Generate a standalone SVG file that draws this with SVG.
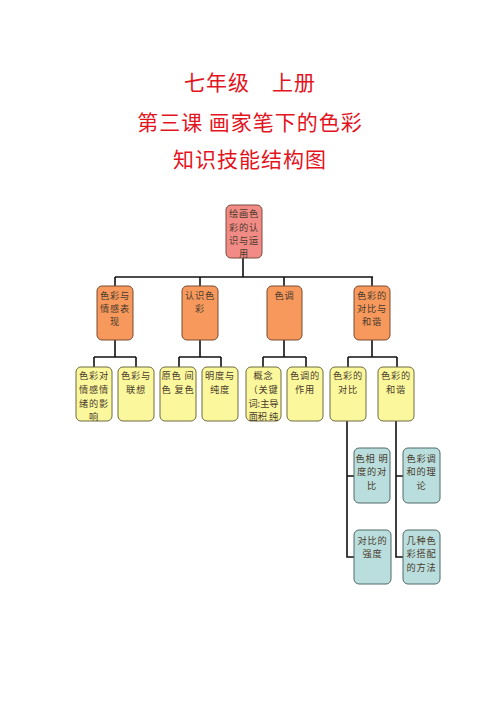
<svg xmlns="http://www.w3.org/2000/svg" width="500" height="707" viewBox="0 0 500 707">
<style>
.t{font-family:"Noto Sans CJK SC","Noto Sans CJK JP",sans-serif;fill:#e3141e;font-size:21px;letter-spacing:1px;text-anchor:middle;dominant-baseline:central}
.b{font-family:"Noto Sans CJK SC","Noto Sans CJK JP",sans-serif;fill:#4a3a2c;font-size:9.2px;letter-spacing:0.8px;text-anchor:middle;dominant-baseline:central}
.r{fill:#f28b86;stroke:#7a4a40;stroke-width:1}
.o{fill:#f7995c;stroke:#7a4a30;stroke-width:1}
.y{fill:#fbf79c;stroke:#6e6a40;stroke-width:1}
.c{fill:#b9dedd;stroke:#4e6a68;stroke-width:1}
.l{fill:none;stroke:#111;stroke-width:1.6}
</style>
<rect width="500" height="707" fill="#fff"/>
<g id="title">
<text class="t" x="250" y="81">七年级　上册</text>
<text class="t" x="250" y="121">第三课 画家笔下的色彩</text>
<text class="t" x="250" y="158">知识技能结构图</text>
</g>
<g id="connectors">
<path class="l" d="M243 258V277M115 277H373M115 277V286M200 277V286M284 277V286M372 277V286"/>
<path class="l" d="M115 340V357M94 357H136M94 357V367M136 357V367"/>
<path class="l" d="M200 340V357M179 357H221M179 357V367M221 357V367"/>
<path class="l" d="M284 340V357M263 357H306M263 357V367M306 357V367"/>
<path class="l" d="M372 340V357M348 357H397M348 357V367M397 357V367"/>
<path class="l" d="M347 421V557H354M347 476H354"/>
<path class="l" d="M396 421V557H403M396 476H403"/>
</g>
<g id="root"><rect class="r" x="226" y="205" width="36" height="53" rx="5"/>
<text class="b" x="244" y="213">绘画色</text><text class="b" x="244" y="227">彩的认</text><text class="b" x="244" y="240">识与运</text><text class="b" x="244" y="253">用</text></g>
<g id="n1"><rect class="o" x="97" y="286" width="36" height="54" rx="5"/>
<text class="b" x="115" y="295">色彩与</text><text class="b" x="115" y="308">情感表</text><text class="b" x="115" y="321">现</text></g>
<g id="n2"><rect class="o" x="182" y="286" width="36" height="54" rx="5"/>
<text class="b" x="200" y="295">认识色</text><text class="b" x="200" y="308">彩</text></g>
<g id="n3"><rect class="o" x="267" y="286" width="35" height="54" rx="5"/>
<text class="b" x="284.5" y="295">色调</text></g>
<g id="n4"><rect class="o" x="354" y="286" width="36" height="54" rx="5"/>
<text class="b" x="372" y="295">色彩的</text><text class="b" x="372" y="308">对比与</text><text class="b" x="372" y="321">和谐</text></g>
<g id="n1a"><rect class="y" x="76" y="367" width="36" height="54" rx="5"/>
<text class="b" x="94" y="375">色彩对</text><text class="b" x="94" y="389">情感情</text><text class="b" x="94" y="403">绪的影</text><text class="b" x="94" y="416">响</text></g>
<g id="n1b"><rect class="y" x="118" y="367" width="36" height="54" rx="5"/>
<text class="b" x="136" y="375">色彩与</text><text class="b" x="136" y="389">联想</text></g>
<g id="n2a"><rect class="y" x="160" y="367" width="36" height="54" rx="5"/>
<text class="b" x="178" y="375">原色 间</text><text class="b" x="178" y="389">色 复色</text></g>
<g id="n2b"><rect class="y" x="202" y="367" width="36" height="54" rx="5"/>
<text class="b" x="220" y="375">明度与</text><text class="b" x="220" y="389">纯度</text></g>
<g id="n3a"><rect class="y" x="246" y="367" width="35" height="54" rx="5"/>
<text class="b" x="263.5" y="375">概念</text><text class="b" x="263.5" y="389">（关键</text><text class="b" x="263.5" y="403" style="letter-spacing:0">词:主导</text><text class="b" x="263.5" y="416" style="letter-spacing:0">面积 纯</text></g>
<g id="n3b"><rect class="y" x="287" y="367" width="36" height="54" rx="5"/>
<text class="b" x="305" y="375">色调的</text><text class="b" x="305" y="389">作用</text></g>
<g id="n4a"><rect class="y" x="330" y="367" width="36" height="54" rx="5"/>
<text class="b" x="348" y="375">色彩的</text><text class="b" x="348" y="389">对比</text></g>
<g id="n4b"><rect class="y" x="378" y="367" width="36" height="54" rx="5"/>
<text class="b" x="396" y="375">色彩的</text><text class="b" x="396" y="389">和谐</text></g>
<g id="n4a1"><rect class="c" x="354" y="448" width="36" height="55" rx="5"/>
<text class="b" x="372" y="458">色相 明</text><text class="b" x="372" y="471">度的对</text><text class="b" x="372" y="485">比</text></g>
<g id="n4b1"><rect class="c" x="403" y="448" width="37" height="55" rx="5"/>
<text class="b" x="421.5" y="458">色彩调</text><text class="b" x="421.5" y="471">和的理</text><text class="b" x="421.5" y="485">论</text></g>
<g id="n4a2"><rect class="c" x="354" y="530" width="37" height="54" rx="5"/>
<text class="b" x="372.5" y="540">对比的</text><text class="b" x="372.5" y="553">强度</text></g>
<g id="n4b2"><rect class="c" x="403" y="530" width="37" height="54" rx="5"/>
<text class="b" x="421.5" y="540">几种色</text><text class="b" x="421.5" y="553">彩搭配</text><text class="b" x="421.5" y="567">的方法</text></g>
</svg>
